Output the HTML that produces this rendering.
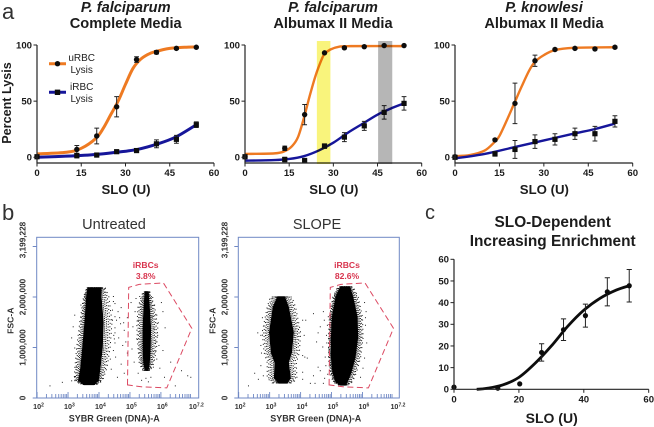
<!DOCTYPE html>
<html>
<head>
<meta charset="utf-8">
<title>Lysis and enrichment figure</title>
<style>
html,body{margin:0;padding:0;background:#fff;width:654px;height:427px;overflow:hidden}
svg{display:block}
text{font-family:"Liberation Sans",sans-serif;fill:#1c1c1c}
.t{font-weight:bold;font-size:14.6px;text-anchor:middle}
.tick{font-weight:bold;font-size:9.6px}
.axt{font-weight:bold;font-size:13.2px;text-anchor:middle}
.pl{font-size:22px;fill:#333}
.ft{font-size:14.5px;text-anchor:middle;fill:#333}
.fl{font-weight:bold;font-size:8.2px;fill:#333}
.red{font-weight:bold;font-size:8.6px;fill:#d8344e;text-anchor:middle}
.leg{font-size:10px;text-anchor:middle;fill:#222}
</style>
</head>
<body>
<svg id="fig" width="654" height="427" viewBox="0 0 654 427" xmlns="http://www.w3.org/2000/svg">
<defs><filter id="soft" x="-2%" y="-2%" width="104%" height="104%"><feGaussianBlur stdDeviation="0.35"/></filter></defs>
<g id="root" filter="url(#soft)">
<text class="pl" x="2" y="19">a</text>
<text class="pl" x="2" y="220">b</text>
<text class="pl" x="425" y="219" style="font-size:20px">c</text>

<text class="t" x="125.7" y="12" font-style="italic">P. falciparum</text>
<text class="t" x="125.7" y="28">Complete Media</text>
<text class="t" x="333" y="12" font-style="italic">P. falciparum</text>
<text class="t" x="333" y="28">Albumax II Media</text>
<text class="t" x="544" y="12" font-style="italic">P. knowlesi</text>
<text class="t" x="544" y="28">Albumax II Media</text>

<text class="axt" transform="translate(11,103) rotate(-90)" style="font-size:12.6px">Percent Lysis</text>

<text class="ft" x="114" y="229">Untreated</text>
<text class="ft" x="317" y="229">SLOPE</text>

<text class="t" x="552.7" y="227" style="font-size:15.4px">SLO-Dependent</text>
<text class="t" x="552.7" y="246" style="font-size:15.4px">Increasing Enrichment</text>

<g>
<text class="leg" x="81.7" y="61">uRBC</text>
<text class="leg" x="81.7" y="73">Lysis</text>
<text class="leg" x="81.7" y="90">iRBC</text>
<text class="leg" x="81.7" y="102">Lysis</text>
<line x1="49" x2="66" y1="63.7" y2="63.7" stroke="#ee7a22" stroke-width="3"/>
<circle cx="57.5" cy="63.7" r="2.7" fill="#111"/>
<line x1="49" x2="66" y1="92.3" y2="92.3" stroke="#14149a" stroke-width="3"/>
<rect x="54.8" y="89.6" width="5.4" height="5.4" fill="#111"/>
</g>
</g>
</svg>
<script>
/* ---------- lysis charts: shared values ---------- */
const doseUnits = [0, 13.5, 20.25, 27, 33.75, 40.5, 47.25, 54];
const lysisXTicks = [0, 15, 30, 45, 60];
const lysisYTicks = [0, 50, 100];

/* panel 1 */
const p1Urbc = [0.5, 7, 19, 45, 87, 93.5, 97, 98];
const p1UrbcErr = [0, 3.5, 7, 9, 2.5, 1.5, 1, 0.5];
const p1Irbc = [0.5, 1.5, 2, 5, 6, 12, 16, 29];
const p1IrbcErr = [0, 2, 1, 1, 1, 3.5, 3.5, 2.5];
const p1UrbcCurveX = [0, 10, 15, 20, 22.5, 25, 27.5, 30, 32.5, 35, 37.5, 40, 45, 50, 54];
const p1UrbcCurveY = [3, 4.5, 8, 17, 26, 38, 50, 65, 79, 87, 91.5, 94, 97, 98, 98.3];
const p1IrbcCurveX = [0, 10, 20, 27, 34, 41, 47, 54];
const p1IrbcCurveY = [0, 1, 2.5, 4.5, 7, 12, 18, 29];

/* panel 2 */
const p2Urbc = [0.5, 8, 38, 93, 97.5, 98.5, 99.5, 99.5];
const p2UrbcErr = [0, 2, 9, 0.5, 1, 0.5, 0.5, 0.5];
const p2Irbc = [0.5, -2, -3, 10, 18, 28, 40, 48];
const p2IrbcErr = [0, 2, 2, 2, 4, 4, 6, 6];
const p2UrbcCurveX = [0, 10, 13.5, 16, 18, 20, 22, 24, 26, 27, 29, 32, 36, 54];
const p2UrbcCurveY = [3, 3.5, 5.5, 10, 18, 35, 55, 73, 87, 92, 96, 98.5, 99, 99];
const p2IrbcCurveX = [0, 10, 15, 20, 25, 30, 35, 40, 45, 50, 54];
const p2IrbcCurveY = [-3, -2.5, -1.5, 1, 6, 13, 22, 30, 38, 44, 48];
const highlightYellow = [24.4, 29];
const highlightGray = [45.2, 50];

/* panel 3 */
const p3Urbc = [0.5, 15.5, 48, 86, 96, 97, 96.5, 98];
const p3UrbcErr = [0, 1, 18, 5, 1, 1, 1, 1];
const p3Irbc = [0, 3, 7, 14, 16, 21, 21, 32];
const p3IrbcErr = [0, 2, 8, 6, 5, 5, 6.5, 5];
const p3UrbcCurveX = [0, 5, 10, 13.5, 15, 17.5, 20, 22.5, 25, 27, 30, 33.75, 40, 54];
const p3UrbcCurveY = [1, 2, 6, 14, 19, 33, 48, 63, 77, 85, 91, 95.5, 97.5, 98];
const p3IrbcCurveX = [0, 10, 20, 30, 40, 47, 54];
const p3IrbcCurveY = [-1, 3, 9, 15, 21, 25, 30];

/* enrichment chart */
const enrichX = [0, 13.5, 20.25, 27, 33.75, 40.5, 47.25, 54];
const enrichY = [1, 0.5, 2.5, 17, 27.5, 34, 45, 47.8];
const enrichErr = [0, 0, 0, 4, 5, 5.3, 6.5, 7.5];
const enrichCurveX = [7, 10, 15, 20, 25, 30, 35, 40, 45, 50, 54];
const enrichCurveY = [0, 0.4, 2, 5.5, 12, 20, 29, 36.5, 42, 45.8, 47.8];
const enrichXTicks = [0, 20, 40, 60];
const enrichYTicks = [0, 10, 20, 30, 40, 50, 60];

/* ---------- flow cytometry values (log10 signal, FSC in millions) ---------- */
const flowDecades = [2, 3, 4, 5, 6];
const flowYTicks = [0, 1, 2, 3];
const flowYLabels = ["0", "1,000,000", "2,000,000", "3,199,228"];
const gateLog = [4.92, 4.96, 5.3, 6.08, 7.0, 6.19, 5.4, 4.92];
const gateFsc = [0.26, 2.19, 2.25, 2.28, 1.38, 0.2, 0.22, 0.26];

const untreatedBlobFsc = [2.18, 2.0, 1.5, 1.0, 0.6, 0.35, 0.27];
const untreatedBlobLeft = [3.65, 3.61, 3.55, 3.48, 3.42, 3.35, 3.52];
const untreatedBlobRight = [4.06, 4.06, 4.13, 4.1, 4.03, 3.97, 3.84];
const untreatedHaloLeft = [3.6, 3.5, 3.38, 3.28, 3.22, 3.2, 3.42];
const untreatedHaloRight = [4.2, 4.32, 4.42, 4.36, 4.26, 4.12, 3.96];
const slimBlobFsc = [2.1, 1.8, 1.4, 1.0, 0.7, 0.55];
const slimBlobLeft = [5.5, 5.46, 5.43, 5.43, 5.45, 5.5];
const slimBlobRight = [5.58, 5.62, 5.66, 5.65, 5.62, 5.58];
const slimHaloLeft = [5.42, 5.26, 5.22, 5.26, 5.3, 5.4];
const slimHaloRight = [5.64, 5.8, 5.9, 5.86, 5.78, 5.66];

const untreatedStray = [
[2.4,0.25],[2.8,0.32],[3.1,0.35],[3.25,0.62],[3.2,1.0],[3.1,1.2],[3.15,1.42],[3.2,1.65],[3.4,1.85],[3.2,0.42],
[4.45,1.92],[4.42,1.75],[4.5,1.88],[4.6,1.72],[4.7,1.8],[4.55,1.55],[4.68,1.48],[4.5,1.4],[4.8,1.35],[4.62,1.2],
[4.48,1.18],[4.75,1.05],[4.85,1.12],[4.45,0.95],[4.52,0.82],[4.7,0.68],[4.38,0.58],[4.58,0.42],[4.8,0.5],[4.45,2.02],
[4.9,1.6],[4.5,1.62],[4.35,0.78],[4.5,1.1],[4.9,0.9],[4.65,1.6],[4.5,1.3],[4.42,1.55],[4.78,1.5],[4.46,1.25],
[5.02,1.9],[5.08,1.42],[5.15,1.72],[5.2,1.18],[5.05,0.98],[5.12,0.72],[5.25,0.5],[5.18,1.98],[5.25,1.55],[5.28,0.9],
[5.3,2.02],[5.32,1.3],[5.35,0.8],[5.36,0.36],[5.72,2.0],[5.78,1.85],[5.85,1.65],[5.9,1.5],[5.88,1.25],[5.92,1.05],
[5.8,0.92],[5.85,0.78],[5.95,0.6],[6.05,0.95],[6.0,1.9],[6.05,1.72],[6.12,1.4],[5.76,1.38],[5.7,1.62],[5.82,1.12],
[5.74,0.62],[5.66,0.42],[5.58,0.33],[5.5,0.4],[6.3,0.72],[6.65,0.55],[6.85,0.45],[6.95,0.42],[6.45,0.25],[6.1,0.42]
];
const slopeStray = [
[2.3,0.25],[2.5,0.5],[2.7,0.65],[2.62,0.38],[2.7,1.25],[2.6,1.3],[2.7,1.05],[2.72,0.9],[2.75,1.6],[2.78,0.45],
[4.05,1.55],[4.1,1.25],[4.05,0.85],[4.15,1.55],[4.12,0.82],[4.2,0.8],[4.05,0.52],[4.05,0.38],[4.3,0.3],[4.4,0.45],
[4.45,0.3],[4.55,0.62],[4.62,0.55],[4.72,0.3],[4.5,1.12],[4.55,1.3],[4.4,1.68],[4.62,1.42],[4.7,1.02],[4.75,1.55],
[4.78,0.82],[4.82,1.25],[4.85,1.45],[4.88,1.62],[4.8,0.65],[4.86,0.48],[4.9,0.98],[4.72,1.72],[4.83,1.1],[4.76,0.4],
[6.05,1.9],[6.1,1.72],[6.08,1.45],[6.12,1.1],[6.05,0.8],[6.0,0.6],[5.92,0.42],[6.08,1.6]
];
const slopeLeftBlobFsc = [2.0, 1.8, 1.3, 0.9, 0.7, 0.4, 0.3];
const slopeLeftBlobL = [3.26, 3.12, 3.0, 3.06, 3.18, 3.16, 3.3];
const slopeLeftBlobR = [3.48, 3.6, 3.76, 3.7, 3.6, 3.66, 3.55];
const slopeLeftHaloL = [3.02, 2.92, 2.76, 2.82, 2.92, 2.92, 3.08];
const slopeLeftHaloR = [3.72, 3.84, 4.0, 3.96, 3.86, 3.88, 3.76];
const slopeRightBlobFsc = [2.2, 2.0, 1.6, 1.2, 0.8, 0.5, 0.32, 0.26];
const slopeRightBlobL = [5.3, 5.15, 5.03, 5.0, 5.0, 5.05, 5.15, 5.3];
const slopeRightBlobR = [5.58, 5.68, 5.82, 5.84, 5.75, 5.62, 5.5, 5.45];
const slopeRightHaloL = [5.2, 5.04, 4.93, 4.9, 4.9, 4.95, 5.05, 5.2];
const slopeRightHaloR = [5.7, 5.86, 6.0, 6.02, 5.94, 5.8, 5.68, 5.55];

/* ---------- drawing helpers ---------- */
const NS = "http://www.w3.org/2000/svg";
const root = document.getElementById("root");
function make(tag, parent, attrs, txt) {
  const n = document.createElementNS(NS, tag);
  for (const k in attrs) n.setAttribute(k, attrs[k]);
  if (txt !== undefined) n.textContent = txt;
  parent.appendChild(n);
  return n;
}
function smoothPath(xs, ys, sx, sy) {
  const px = xs.map(sx), py = ys.map(sy);
  let d = "M" + px[0].toFixed(2) + " " + py[0].toFixed(2);
  for (let i = 0; i < px.length - 1; i++) {
    const x0 = px[Math.max(i - 1, 0)], y0 = py[Math.max(i - 1, 0)];
    const x3 = px[Math.min(i + 2, px.length - 1)], y3 = py[Math.min(i + 2, px.length - 1)];
    const c1x = px[i] + (px[i + 1] - x0) / 6, c1y = py[i] + (py[i + 1] - y0) / 6;
    const c2x = px[i + 1] - (x3 - px[i]) / 6, c2y = py[i + 1] - (y3 - py[i]) / 6;
    d += "C" + c1x.toFixed(2) + " " + c1y.toFixed(2) + " " + c2x.toFixed(2) + " " + c2y.toFixed(2) + " " + px[i + 1].toFixed(2) + " " + py[i + 1].toFixed(2);
  }
  return d;
}
function drawErrors(g, xs, ys, errs, sx, sy, cap) {
  xs.forEach(function (v, i) {
    if (!errs[i]) return;
    const x = sx(v), a = sy(ys[i] + errs[i]), b = sy(ys[i] - errs[i]);
    const bar = make("path", g, {d: "M" + (x - cap) + " " + a + "H" + (x + cap) + "M" + x + " " + a + "V" + b + "M" + (x - cap) + " " + b + "H" + (x + cap), fill: "none", stroke: "#222", "stroke-width": 1});
    
    
  });
}
function drawAxes(g, x0, x1, yBottom, yTop, xTicks, yTicks, sx, sy) {
  const axis = make("path", g, {d: "M" + x0 + " " + yTop + "V" + yBottom + "H" + x1, fill: "none", stroke: "#222", "stroke-width": 1.2});
  
  
  xTicks.forEach(function (t) {
    const m = make("line", g, {x1: sx(t), x2: sx(t), y1: yBottom, y2: yBottom + 3.5, stroke: "#222", "stroke-width": 1});
    
    
    const l = make("text", g, {x: sx(t), y: yBottom + 13, "text-anchor": "middle", class: "tick"}, t);
    
    
  });
  yTicks.forEach(function (t) {
    const m = make("line", g, {x1: x0 - 3.5, x2: x0, y1: sy(t), y2: sy(t), stroke: "#222", "stroke-width": 1});
    
    
    const l = make("text", g, {x: x0 - 5, y: sy(t) + 3.4, "text-anchor": "end", class: "tick"}, t);
    
    
  });
}
function drawLysis(name, x0, xw, cfg) {
  const sx = function (v) { return x0 + v * (xw - x0) / 60; };
  const sy = function (v) { return 157.3 - v * 1.123; };
  const g = make("g", root, {});
  
  
  const orange = make("path", g, {d: smoothPath(cfg.uCx, cfg.uCy, sx, sy), fill: "none", stroke: "#ee7a22", "stroke-width": cfg.lw});
  
  
  const blue = make("path", g, {d: smoothPath(cfg.iCx, cfg.iCy, sx, sy), fill: "none", stroke: "#14149a", "stroke-width": cfg.lw});
  
  
  drawErrors(g, doseUnits, cfg.u, cfg.uE, sx, sy, 2.4);
  drawErrors(g, doseUnits, cfg.i, cfg.iE, sx, sy, 2.4);
  doseUnits.forEach(function (v, i) {
    const c = make("circle", g, {cx: sx(v), cy: sy(cfg.u[i]), r: 2.7, fill: "#111"});
    
    
    const s = make("rect", g, {x: sx(v) - 2.6, y: sy(cfg.i[i]) - 2.6, width: 5.2, height: 5.2, fill: "#111"});
    
    
  });
  drawAxes(g, x0, xw, 163, 45, lysisXTicks, lysisYTicks, sx, sy);
  const title = make("text", g, {x: (x0 + xw) / 2 + 0.5, y: 194, class: "axt"}, "SLO (U)");
  
  
  return {g: g, sx: sx};
}
function band(p, range, color, label) {
  const r = make("rect", p.g, {x: p.sx(range[0]), width: p.sx(range[1]) - p.sx(range[0]), y: 41, height: 123, fill: color, style: "mix-blend-mode:multiply"});
  
  
}

/* ---------- lysis panels ---------- */
drawLysis("lysis-chart-complete-media", 37, 214, {lw: 3, u: p1Urbc, uE: p1UrbcErr, i: p1Irbc, iE: p1IrbcErr, uCx: p1UrbcCurveX, uCy: p1UrbcCurveY, iCx: p1IrbcCurveX, iCy: p1IrbcCurveY});
const panel2 = drawLysis("lysis-chart-albumax-falciparum", 245, 421.7, {lw: 2.4, u: p2Urbc, uE: p2UrbcErr, i: p2Irbc, iE: p2IrbcErr, uCx: p2UrbcCurveX, uCy: p2UrbcCurveY, iCx: p2IrbcCurveX, iCy: p2IrbcCurveY});
band(panel2, highlightYellow, "#f9f47c", "highlight-band-yellow");
band(panel2, highlightGray, "#b6b6b6", "highlight-band-gray");
drawLysis("lysis-chart-albumax-knowlesi", 455, 632.7, {lw: 2.4, u: p3Urbc, uE: p3UrbcErr, i: p3Irbc, iE: p3IrbcErr, uCx: p3UrbcCurveX, uCy: p3UrbcCurveY, iCx: p3IrbcCurveX, iCy: p3IrbcCurveY});

/* ---------- enrichment chart ---------- */
(function () {
  const sx = function (v) { return 454 + v * 194.7 / 60; };
  const sy = function (v) { return 389.3 - v * 130 / 60; };
  const g = make("g", root, {});
  
  
  const fit = make("path", g, {d: smoothPath(enrichCurveX, enrichCurveY, sx, sy), fill: "none", stroke: "#111", "stroke-width": 2.8});
  
  
  drawErrors(g, enrichX, enrichY, enrichErr, sx, sy, 2.6);
  enrichX.forEach(function (v, i) {
    const c = make("circle", g, {cx: sx(v), cy: sy(enrichY[i]), r: 2.6, fill: "#111"});
    
    
  });
  drawAxes(g, 454, 648.7, 389.3, 259.3, enrichXTicks, enrichYTicks, sx, sy);
  const title = make("text", g, {x: 551.7, y: 423, class: "axt", style: "font-size:14px"}, "SLO (U)");
  
  
})();

/* ---------- flow plots ---------- */
const ringFractions = [0.2, 0.4, 0.6, 0.8, 1];
const ringDashes = ["1 0.9", "1 1.2", "1 1.7", "1 2.5", "1 3.6"];
function drawFlow(name, left, right, build) {
  const B = "#6f88c4";
  const sx = function (v) { return left + 0.4 + (v - 2) * 30.95; };
  const sy = function (v) { return 398 - v * 50.5; };
  const g = make("g", root, {});
  
  
  const frame = make("rect", g, {x: left, y: 237.3, width: right - left, height: 160.7, fill: "none", stroke: B, "stroke-width": 1});
  
  
  flowYTicks.forEach(function (t, i) {
    const m = make("line", g, {x1: left - 4, x2: left, y1: sy(t), y2: sy(t), stroke: B, "stroke-width": 1});
    
    
    const ly = i === 3 ? 240 : sy(t);
    const l = make("text", g, {transform: "translate(" + (left - 11) + "," + ly + ") rotate(-90)", "text-anchor": "middle", class: "fl"}, flowYLabels[i]);
    
    
  });
  flowDecades.forEach(function (d) {
    for (let k = 1; k < 10; k++) {
      const x = sx(d + Math.log10(k));
      const m = make("line", g, {x1: x, x2: x, y1: 398, y2: k === 1 ? 392 : 394, stroke: B, "stroke-width": 0.9});
      
      
    }
    const l = make("text", g, {x: sx(d) - 4, y: 409, class: "fl", style: "font-size:7.2px"});
    
    
    make("tspan", l, {}, "10");
    make("tspan", l, {dy: -2.5, style: "font-size:5px"}, d);
  });
  const last = make("text", g, {x: sx(7) - 3, y: 409, class: "fl", style: "font-size:7.2px"});
  
  
  make("tspan", last, {}, "10");
  make("tspan", last, {dy: -2.5, style: "font-size:5px"}, "7.2");
  const xt = make("text", g, {x: left + 77.5, y: 421.5, "text-anchor": "middle", class: "fl", style: "font-size:9px"}, "SYBR Green (DNA)-A");
  
  
  const yt = make("text", g, {transform: "translate(" + (left - 23) + ",320.7) rotate(-90)", "text-anchor": "middle", class: "fl", style: "font-size:8.6px"}, "FSC-A");
  
  

  function poly(fsc, l, r) {
    let d = "";
    fsc.forEach(function (f, i) { d += (i ? "L" : "M") + sx(l[i]).toFixed(1) + " " + sy(f).toFixed(1); });
    for (let i = fsc.length - 1; i >= 0; i--) d += "L" + sx(r[i]).toFixed(1) + " " + sy(fsc[i]).toFixed(1);
    return d + "Z";
  }
  const api = {
    cloud: function (fsc, bl, br, hl, hr) {
      ringFractions.forEach(function (f, n) {
        const l = bl.map(function (v, i) { return v + (hl[i] - v) * f; });
        const r = br.map(function (v, i) { return v + (hr[i] - v) * f; });
        const ring = make("path", g, {d: poly(fsc, l, r), fill: "none", stroke: "#111", "stroke-width": 1, "stroke-dasharray": ringDashes[n], "stroke-dashoffset": n * 0.7});
        
        
      });
      const p = make("path", g, {d: poly(fsc, bl, br), fill: "#000", stroke: "#000", "stroke-width": 1.4, "stroke-linejoin": "round"});
      
      
    },
    stray: function (list) {
      list.forEach(function (q) {
        const c = make("rect", g, {x: sx(q[0]), y: sy(q[1]), width: 1, height: 1, fill: "#222"});
        
        
      });
    }
  };
  build(api);
  let gd = "";
  gateLog.forEach(function (v, i) { gd += (i ? "L" : "M") + sx(v).toFixed(1) + " " + sy(gateFsc[i]).toFixed(1); });
  const gate = make("path", g, {d: gd + "Z", fill: "none", stroke: "#dc4a62", "stroke-width": 1, "stroke-dasharray": "6 3.5"});
  
  
  return {g: g, sx: sx};
}
const flow1 = drawFlow("flow-plot-untreated", 36.7, 198.7, function (a) {
  a.cloud(untreatedBlobFsc, untreatedBlobLeft, untreatedBlobRight, untreatedHaloLeft, untreatedHaloRight);
  a.cloud(slimBlobFsc, slimBlobLeft, slimBlobRight, slimHaloLeft, slimHaloRight);
  a.stray(untreatedStray);
});
const flow2 = drawFlow("flow-plot-slope", 238.3, 399.3, function (a) {
  a.cloud(slopeLeftBlobFsc, slopeLeftBlobL, slopeLeftBlobR, slopeLeftHaloL, slopeLeftHaloR);
  a.cloud(slopeRightBlobFsc, slopeRightBlobL, slopeRightBlobR, slopeRightHaloL, slopeRightHaloR);
  a.stray(slopeStray);
});
const gateLabels = [["iRBCs", "3.8%"], ["iRBCs", "82.6%"]];
[flow1, flow2].forEach(function (f, i) {
  const cx = i === 0 ? 145.7 : 347;
  const a = make("text", f.g, {x: cx, y: 268, class: "red"}, gateLabels[i][0]);
  
  
  const b = make("text", f.g, {x: cx, y: 279, class: "red"}, gateLabels[i][1]);
  
  
});
</script>
</body>
</html>
